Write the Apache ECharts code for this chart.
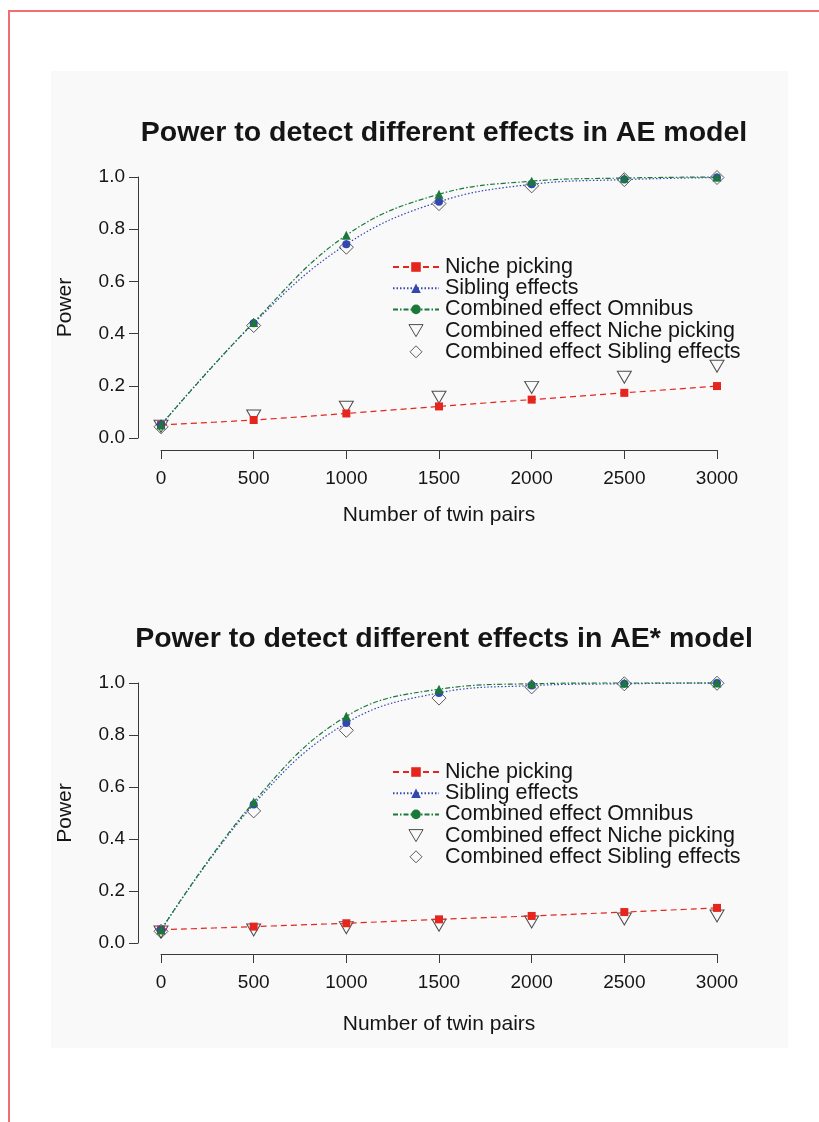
<!DOCTYPE html>
<html>
<head>
<meta charset="utf-8">
<script src="https://cdn.jsdelivr.net/npm/echarts/dist/echarts.min.js"></script>
<style>
html,body{margin:0;padding:0;background:#ffffff;}
#frameTop{position:absolute;left:8px;top:10px;width:811px;height:1.5px;background:#ee6e72;}
#frameLeft{position:absolute;left:8px;top:10px;width:1.5px;height:1112px;background:#ee6e72;}
#panel{position:absolute;left:51px;top:71px;width:737px;height:977px;background:#f9f9f9;}
#chart{position:absolute;left:0;top:0;width:819px;height:1122px;}
</style>
</head>
<body>
<div id="frameTop"></div>
<div id="frameLeft"></div>
<div id="panel"></div>
<div id="chart"></div>
<script>
// ---------- data ----------
const twinPairs = [0, 500, 1000, 1500, 2000, 2500, 3000];
const xTicks = [0, 500, 1000, 1500, 2000, 2500, 3000];
const yTicks = ['0.0', '0.2', '0.4', '0.6', '0.8', '1.0'];
const titles = ['Power to detect different effects in AE model',
                'Power to detect different effects in AE* model'];
const seriesNames = ['Niche picking', 'Sibling effects', 'Combined effect Omnibus',
                     'Combined effect Niche picking', 'Combined effect Sibling effects'];
const xAxisTitle = 'Number of twin pairs';
const yAxisTitle = 'Power';

// AE model
const aeNiche        = [0.050, 0.069, 0.094, 0.121, 0.147, 0.173, 0.199];
const aeSibling      = [0.050, 0.440, 0.742, 0.905, 0.972, 0.990, 0.998];
const aeOmnibus      = [0.050, 0.443, 0.777, 0.934, 0.984, 0.996, 1.000];
const aeCombNiche    = [0.045, 0.084, 0.118, 0.156, 0.194, 0.233, 0.275];
const aeCombSibling  = [0.043, 0.431, 0.731, 0.898, 0.966, 0.990, 0.998];

// AE* model
const aesNiche       = [0.051, 0.063, 0.076, 0.091, 0.104, 0.119, 0.135];
const aesSibling     = [0.050, 0.533, 0.846, 0.962, 0.990, 0.997, 1.000];
const aesOmnibus     = [0.050, 0.542, 0.872, 0.976, 0.997, 1.000, 1.000];
const aesCombNiche   = [0.042, 0.050, 0.059, 0.068, 0.081, 0.092, 0.104];
const aesCombSibling = [0.045, 0.508, 0.818, 0.942, 0.985, 0.997, 0.999];

const panels = [
  {niche: aeNiche, sibling: aeSibling, omnibus: aeOmnibus, combNiche: aeCombNiche, combSibling: aeCombSibling},
  {niche: aesNiche, sibling: aesSibling, omnibus: aesOmnibus, combNiche: aesCombNiche, combSibling: aesCombSibling}
];

// ---------- styles ----------
const FONT = "'Liberation Sans', Arial, Helvetica, sans-serif";
const RED = '#e5261f', BLUE = '#3347b0', GREEN = '#19783a', INK = '#151515', AXIS = '#3a3a3a';
const TRI_DOWN = 'path://M-1,-0.85L1,-0.85L0,0.85Z';
const DIAMOND = 'path://M0,-1L1,0L0,1L-1,0Z';

const layout = [
  {gridTop: 177, gridH: 261, titleTop: 114, legendTop: 251, xOffset: 12, nameGap: 55},
  {gridTop: 683, gridH: 260, titleTop: 620, legendTop: 756, xOffset: 11, nameGap: 60}
];

function pairs(arr) { return twinPairs.map((x, i) => [x, arr[i]]); }

const grids = [], xAxes = [], yAxes = [], series = [], titleOpts = [], legends = [];

layout.forEach((L, g) => {
  const d = panels[g];
  grids.push({left: 161, right: 102, top: L.gridTop, height: L.gridH, containLabel: false});
  titleOpts.push({
    text: titles[g], left: 439, top: L.titleTop, textAlign: 'center',
    textStyle: {fontFamily: FONT, fontSize: 28.5, fontWeight: 'bold', color: INK}
  });
  xAxes.push({
    type: 'value', gridIndex: g, min: xTicks[0], max: xTicks[xTicks.length - 1], interval: 500,
    offset: L.xOffset,
    axisLine: {show: true, onZero: false, lineStyle: {color: AXIS, width: 1}},
    axisTick: {show: true, length: 9, lineStyle: {color: AXIS, width: 1}},
    axisLabel: {fontFamily: FONT, fontSize: 19, color: INK, margin: 19,
                formatter: v => String(v)},
    splitLine: {show: false},
    name: xAxisTitle, nameLocation: 'middle', nameGap: L.nameGap,
    nameTextStyle: {fontFamily: FONT, fontSize: 21, color: INK}
  });
  yAxes.push({
    type: 'value', gridIndex: g, min: 0, max: 1, interval: 0.2, offset: 23,
    axisLine: {show: true, onZero: false, lineStyle: {color: AXIS, width: 1}},
    axisTick: {show: true, length: 9, lineStyle: {color: AXIS, width: 1}},
    axisLabel: {fontFamily: FONT, fontSize: 19, color: INK, margin: 13,
                formatter: v => yTicks[Math.round(v / 0.2)]},
    splitLine: {show: false},
    name: yAxisTitle, nameLocation: 'middle', nameGap: 62, nameRotate: 90,
    nameTextStyle: {fontFamily: FONT, fontSize: 21, color: INK}
  });

  // open markers first (drawn underneath)
  series.push({
    name: seriesNames[4], type: 'scatter', xAxisIndex: g, yAxisIndex: g,
    data: pairs(d.combSibling), symbol: DIAMOND, symbolSize: 14, clip: false,
    itemStyle: {color: 'rgba(0,0,0,0)', borderColor: '#333', borderWidth: 1}, z: 2
  });
  series.push({
    name: seriesNames[3], type: 'scatter', xAxisIndex: g, yAxisIndex: g,
    data: pairs(d.combNiche), symbol: TRI_DOWN, symbolSize: [14, 12], clip: false,
    itemStyle: {color: 'rgba(0,0,0,0)', borderColor: '#222', borderWidth: 1}, z: 2
  });
  series.push({
    name: seriesNames[0], type: 'line', xAxisIndex: g, yAxisIndex: g,
    data: pairs(d.niche), smooth: 0.3, clip: false,
    symbol: 'rect', symbolSize: 8,
    lineStyle: {color: RED, width: 1.2, type: [6, 4]},
    itemStyle: {color: RED}, z: 3
  });
  series.push({
    name: seriesNames[1], type: 'line', xAxisIndex: g, yAxisIndex: g,
    data: pairs(d.sibling).map(p => ({value: p, symbol: 'circle', symbolSize: 8})),
    smooth: 0.4, clip: false,
    symbol: 'triangle', symbolSize: 9,
    lineStyle: {color: BLUE, width: 1.2, type: [1.5, 2]},
    itemStyle: {color: BLUE}, z: 4
  });
  series.push({
    name: seriesNames[2], type: 'line', xAxisIndex: g, yAxisIndex: g,
    data: pairs(d.omnibus).map(p => ({value: p, symbol: 'triangle', symbolSize: 9})),
    smooth: 0.4, clip: false,
    symbol: 'circle', symbolSize: 8,
    lineStyle: {color: GREEN, width: 1.2, type: [5, 2, 1.5, 2]},
    itemStyle: {color: GREEN}, z: 5
  });

  legends.push({
    orient: 'vertical', left: 387, top: L.legendTop,
    itemWidth: 46, itemHeight: 12, itemGap: -0.8,
    selectedMode: false,
    textStyle: {fontFamily: FONT, fontSize: 21.5, color: INK, lineHeight: 20, padding: [0, 0, 0, 1]},
    data: [
      {name: seriesNames[0]},
      {name: seriesNames[1]},
      {name: seriesNames[2]},
      {name: seriesNames[3], itemStyle: {color: 'rgba(0,0,0,0)', borderColor: '#222', borderWidth: 1}},
      {name: seriesNames[4], itemStyle: {color: 'rgba(0,0,0,0)', borderColor: '#333', borderWidth: 1}}
    ]
  });
});

const chart = echarts.init(document.getElementById('chart'), null, {renderer: 'canvas'});
chart.setOption({
  backgroundColor: 'transparent',
  animation: false,
  title: titleOpts,
  legend: legends,
  grid: grids,
  xAxis: xAxes,
  yAxis: yAxes,
  series: series
});
</script>
</body>
</html>
